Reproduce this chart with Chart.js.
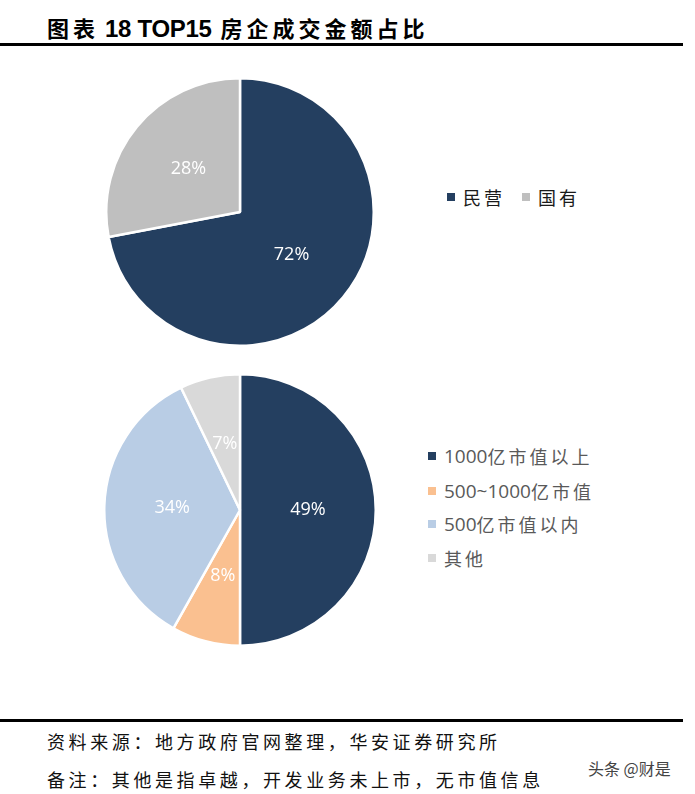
<!DOCTYPE html>
<html>
<head>
<meta charset="utf-8">
<script src="https://cdn.jsdelivr.net/npm/chart.js@4.4.0/dist/chart.umd.min.js"></script>
<style>
  body { margin: 0; width: 695px; height: 794px; background: #fff; position: relative; overflow: hidden;
         font-family: "Noto Sans CJK SC", sans-serif; }
  .abs { position: absolute; }
  .title { left: 47px; top: 11px; font-size: 22px; font-weight: 700; color: #000; white-space: nowrap; }
  .title .cn { letter-spacing: 4px; }
  .title .en { font-family: "Liberation Sans", Arial, sans-serif; font-size: 24px; margin: 0 9px 0 6px; letter-spacing: -0.3px; }
  .rule { left: 0; width: 683px; height: 3px; background: #000; }
  .box { width: 270px; height: 270px; }
  .legend { font-size: 18px; white-space: nowrap; }
  .legend .item { position: absolute; display: flex; align-items: center; }
  .legend .sq { width: 8px; height: 8px; margin-right: 8px; }
  .legend .cn { letter-spacing: 3px; }
  .legend .en { font-family: "Open Sans", sans-serif; font-size: 19px; }
  .foot { left: 47px; font-size: 18px; letter-spacing: 3.6px; color: #111; white-space: nowrap; }
  .mark { left: 588px; top: 756px; font-size: 16px; color: #444; white-space: nowrap; }
</style>
</head>
<body>

<div class="abs title"><span class="cn">图表</span><span class="en">18 TOP15</span><span class="cn">房企成交金额占比</span></div>
<div class="abs rule" style="top:43px"></div>

<div class="abs box" style="left:105px; top:77px"><canvas id="pieOwner"></canvas></div>
<div class="abs box" style="left:103px; top:373px; width:274px; height:274px"><canvas id="pieCap"></canvas></div>

<div class="abs legend" id="legOwner"></div>
<div class="abs legend" id="legCap"></div>

<div class="abs rule" style="top:719px"></div>
<div class="abs foot" style="top:728px">资料来源：地方政府官网整理，华安证券研究所</div>
<div class="abs foot" style="top:766px">备注：其他是指卓越，开发业务未上市，无市值信息</div>
<div class="abs mark">头条 @财是</div>

<script>
// dados
const ownerLabels = ['民营', '国有'];
const ownerValues = [72, 28];

const capLabels = ['1000亿市值以上', '500~1000亿市值', '500亿市值以内', '其他'];
const capValues = [49, 8, 34, 7];

const ownerColors = ['#243F60', '#BFBFBF'];
const capColors = ['#243F60', '#FAC090', '#B9CDE5', '#D9D9D9'];

// rotulo de % dentro de cada fatia
const pctLabels = {
    id: 'pctLabels',
    afterDatasetsDraw(chart) {
        var ctx = chart.ctx;
        var meta = chart.getDatasetMeta(0);
        var valores = chart.data.datasets[0].data;
        ctx.save();
        ctx.fillStyle = '#fff';
        ctx.font = '18px "Open Sans", sans-serif';
        ctx.textAlign = 'center';
        ctx.textBaseline = 'middle';
        meta.data.forEach((arc, i) => {
            var p = arc.tooltipPosition(true);
            ctx.fillText(valores[i] + '%', p.x, p.y);
        });
        ctx.restore();
    }
};

function plotarPizza(id, labels, valores, cores) {
    var canvas = document.getElementById(id).getContext('2d');
    return new Chart(canvas, {
        type: 'pie',
        data: {
            labels: labels,
            datasets: [{
                data: valores,
                backgroundColor: cores,
                borderColor: '#fff',
                borderWidth: 2.5
            }]
        },
        options: {
            responsive: true,
            maintainAspectRatio: false,
            animation: false,
            layout: { padding: 0 },
            plugins: {
                legend: { display: false },
                tooltip: { enabled: false }
            }
        },
        plugins: [pctLabels]
    });
}

// quebra o texto em trechos CJK e latinos
function montarTexto(txt) {
    return txt.replace(/([\u4e00-\u9fff]+)|([^\u4e00-\u9fff]+)/g, function (m, cn, en) {
        return cn ? '<span class="cn">' + cn + '</span>' : '<span class="en">' + en + '</span>';
    });
}

function montarLegenda(id, labels, cores, posicoes, corTexto) {
    var el = document.getElementById(id);
    var html = '';
    for (var i = 0; i < labels.length; i++) {
        html += '<div class="item" style="left:' + posicoes[i][0] + 'px; top:' + posicoes[i][1] + 'px; color:' + corTexto + '">' +
            '<span class="sq" style="background:' + cores[i] + '"></span>' + montarTexto(labels[i]) + '</div>';
    }
    el.innerHTML = html;
}

plotarPizza('pieOwner', ownerLabels, ownerValues, ownerColors);
plotarPizza('pieCap', capLabels, capValues, capColors);

montarLegenda('legOwner', ownerLabels, ownerColors, [[447, 184], [522, 184]], '#1a1a1a');
montarLegenda('legCap', capLabels, capColors, [[428, 443], [428, 478], [428, 511], [428, 545]], '#595959');
</script>
</body>
</html>
